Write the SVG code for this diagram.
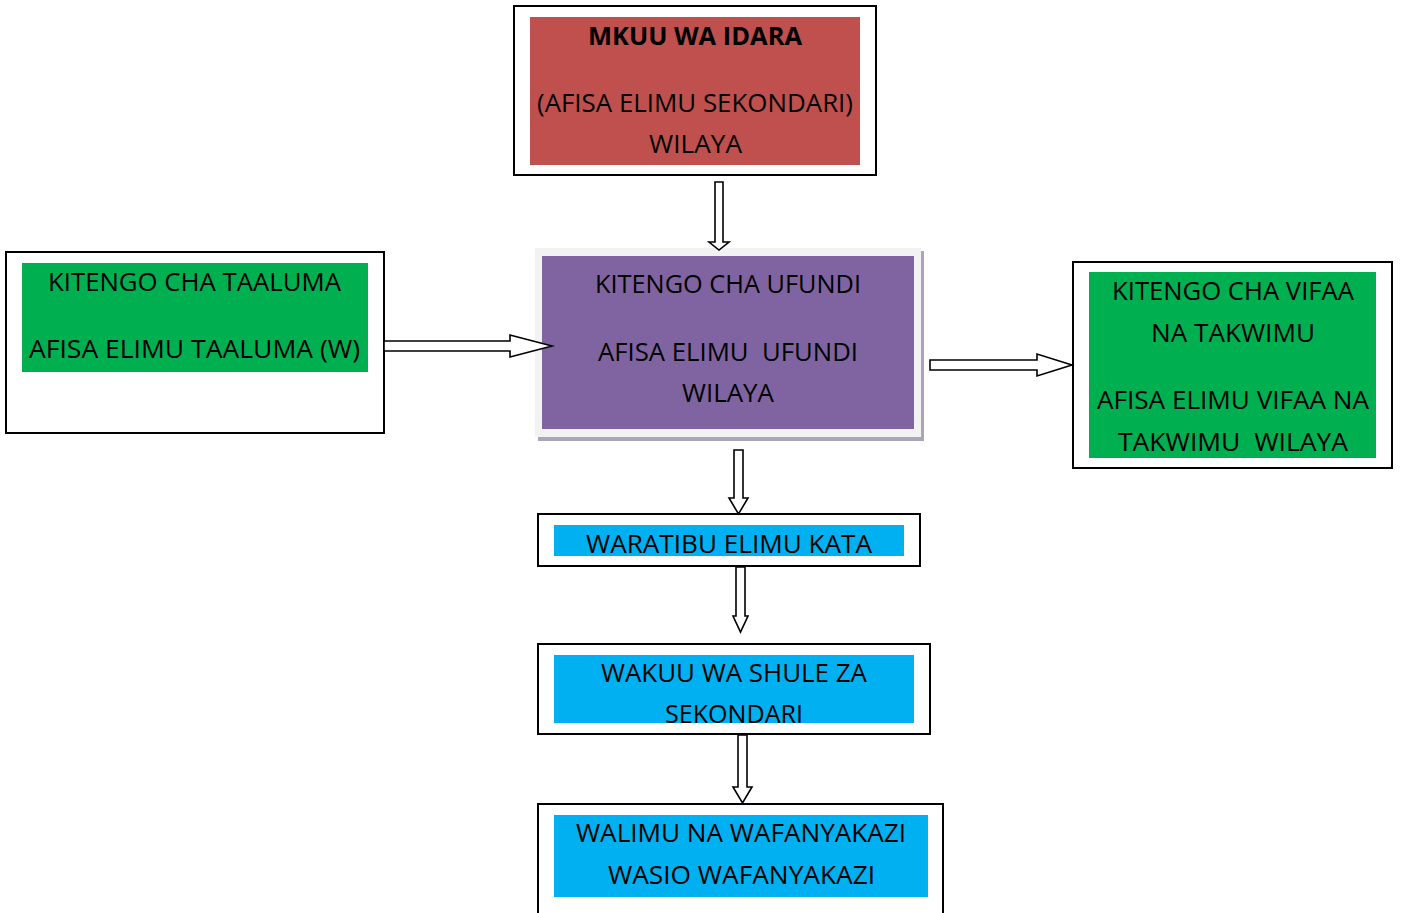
<svg xmlns="http://www.w3.org/2000/svg" width="1401" height="913" viewBox="0 0 1401 913">
<style>
.frame{fill:#ffffff;stroke:#000000;stroke-width:2}
.red{fill:#C0504D}
.purple{fill:#8064A2}
.green{fill:#00B050}
.blue{fill:#00B0F0}
.t{font-family:"Open Sans","Noto Sans","Liberation Sans",sans-serif;font-size:25px;fill:#000000;text-anchor:middle;white-space:pre}
.b{font-weight:bold}
.arrow{fill:#ffffff;stroke:#000000;stroke-width:1.6;stroke-linejoin:miter}
</style>
<rect width="1401" height="913" fill="#ffffff"/>
<g id="node-mkuu">
<rect class="frame" x="514" y="6" width="362" height="169"/>
<rect class="red" x="530" y="17" width="330" height="148"/>
<text class="t b" x="695" y="45" textLength="214" lengthAdjust="spacingAndGlyphs">MKUU WA IDARA</text>
<text class="t" x="695" y="112" textLength="316" lengthAdjust="spacingAndGlyphs">(AFISA ELIMU SEKONDARI)</text>
<text class="t" x="695.5" y="153" textLength="93" lengthAdjust="spacingAndGlyphs">WILAYA</text>
</g>
<g id="node-ufundi">
<rect x="538" y="251" width="386" height="190" fill="#A9A6BC"/>
<rect x="535" y="248" width="386" height="189" fill="#F2F2F2"/>
<rect class="purple" x="542" y="256" width="372" height="173"/>
<text class="t" x="728" y="293" textLength="266" lengthAdjust="spacingAndGlyphs">KITENGO CHA UFUNDI</text>
<text class="t" x="728" y="361" textLength="260" lengthAdjust="spacingAndGlyphs" xml:space="preserve">AFISA ELIMU  UFUNDI</text>
<text class="t" x="728" y="402" textLength="92" lengthAdjust="spacingAndGlyphs">WILAYA</text>
</g>
<g id="node-taaluma">
<rect class="frame" x="6" y="252" width="378" height="181"/>
<rect class="green" x="22" y="263" width="346" height="109"/>
<text class="t" x="194.5" y="291" textLength="293" lengthAdjust="spacingAndGlyphs">KITENGO CHA TAALUMA</text>
<text class="t" x="194.5" y="358" textLength="331" lengthAdjust="spacingAndGlyphs">AFISA ELIMU TAALUMA (W)</text>
</g>
<g id="node-vifaa">
<rect class="frame" x="1073" y="262" width="319" height="206"/>
<rect class="green" x="1089" y="272" width="287" height="186"/>
<text class="t" x="1233" y="300" textLength="242" lengthAdjust="spacingAndGlyphs">KITENGO CHA VIFAA</text>
<text class="t" x="1233" y="342" textLength="164" lengthAdjust="spacingAndGlyphs">NA TAKWIMU</text>
<text class="t" x="1233" y="409" textLength="272" lengthAdjust="spacingAndGlyphs">AFISA ELIMU VIFAA NA</text>
<text class="t" x="1233" y="451" textLength="230" lengthAdjust="spacingAndGlyphs" xml:space="preserve">TAKWIMU  WILAYA</text>
</g>
<g id="node-waratibu">
<rect class="frame" x="538" y="514" width="382" height="52"/>
<rect class="blue" x="554" y="525" width="350" height="31"/>
<text class="t" x="729" y="553" textLength="286" lengthAdjust="spacingAndGlyphs">WARATIBU ELIMU KATA</text>
</g>
<g id="node-wakuu">
<rect class="frame" x="538" y="644" width="392" height="90"/>
<rect class="blue" x="554" y="655" width="360" height="68"/>
<text class="t" x="734" y="682" textLength="266" lengthAdjust="spacingAndGlyphs">WAKUU WA SHULE ZA</text>
<text class="t" x="734" y="723" textLength="138" lengthAdjust="spacingAndGlyphs">SEKONDARI</text>
</g>
<g id="node-walimu">
<rect class="frame" x="538" y="804" width="405" height="120"/>
<rect class="blue" x="554" y="815" width="374" height="82"/>
<text class="t" x="741" y="842" textLength="330" lengthAdjust="spacingAndGlyphs">WALIMU NA WAFANYAKAZI</text>
<text class="t" x="741.5" y="884" textLength="267" lengthAdjust="spacingAndGlyphs">WASIO WAFANYAKAZI</text>
</g>
<g id="connectors">
<polygon class="arrow" points="715,182 723,182 723,242 729,242 719,250 709,242 715,242"/>
<polygon class="arrow" points="384,341 510,341 510,335 552,346 510,357 510,351 384,351"/>
<polygon class="arrow" points="930,360 1037,360 1037,354 1072,365 1037,376 1037,370 930,370"/>
<polygon class="arrow" points="734,450 743,450 743,498 748,498 738.5,514 729,498 734,498"/>
<polygon class="arrow" points="736,567 745,567 745,616 748,616 740.5,632 733,616 736,616"/>
<polygon class="arrow" points="738,735 747,735 747,787 752,787 742.5,803 733,787 738,787"/>
</g>
</svg>
